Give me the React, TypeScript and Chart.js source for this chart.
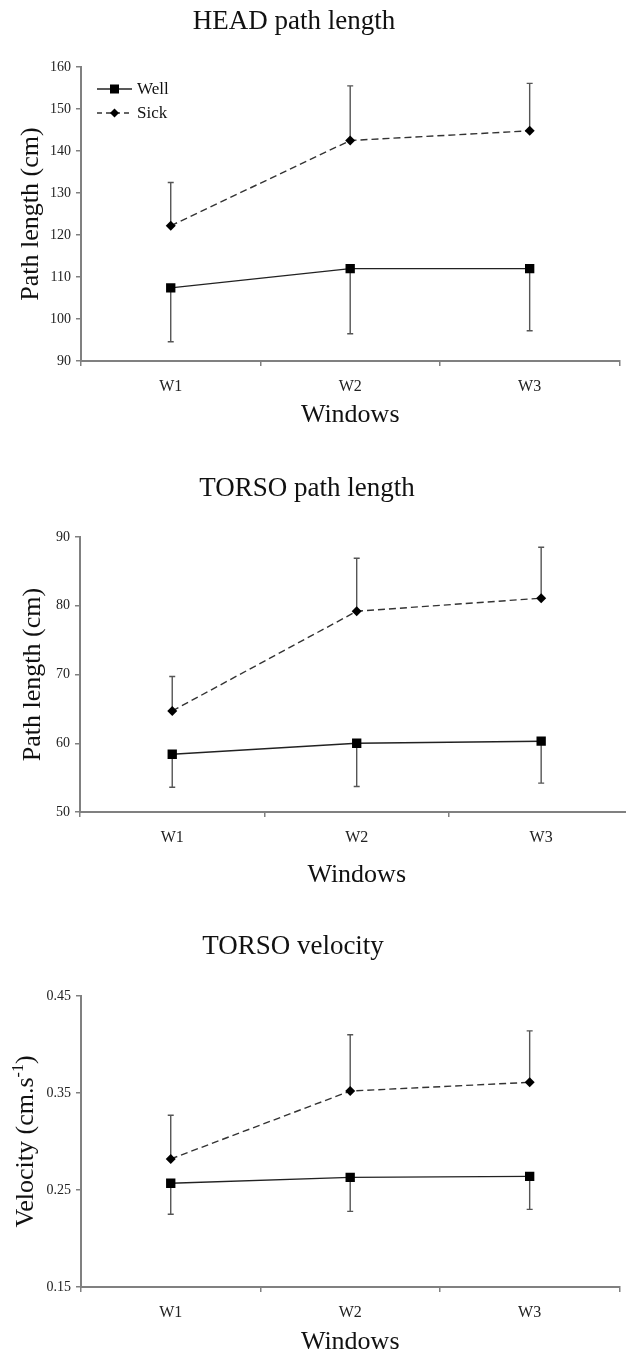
import React, { useEffect, useRef } from "react";
import { Chart, registerables } from "chart.js";

Chart.register(...registerables);

const SERIF = '"Liberation Serif", "Times New Roman", Times, serif';

// ---------- data ----------
const windows = ["W1", "W2", "W3"];
const seriesNames = ["Well", "Sick"];

const headWell = [107.4, 112.0, 112.0];
const headWellSd = [12.8, 15.5, 14.8];
const headSick = [122.2, 142.5, 144.8];
const headSickSd = [10.3, 13.0, 11.3];
const headTicks = [90, 100, 110, 120, 130, 140, 150, 160];

const torsoWell = [58.4, 60.0, 60.3];
const torsoWellSd = [4.8, 6.3, 6.1];
const torsoSick = [64.7, 79.2, 81.1];
const torsoSickSd = [5.0, 7.7, 7.4];
const torsoTicks = [50, 60, 70, 80, 90];

const velWell = [0.257, 0.263, 0.264];
const velWellSd = [0.032, 0.035, 0.034];
const velSick = [0.282, 0.352, 0.361];
const velSickSd = [0.045, 0.058, 0.053];
const velTicks = [0.15, 0.25, 0.35, 0.45];

type Part = { text: string; sup?: boolean };

interface Spec {
  top: number;
  width: number;
  height: number;
  plotLeft: number;
  plotTop: number;
  plotRight: number;
  plotBottom: number;
  title: string;
  titleX: number;
  titleY: number;
  xTitle: string;
  xTitleY: number;
  yTitle: Part[];
  yTitleX: number;
  well: number[];
  wellSd: number[];
  sick: number[];
  sickSd: number[];
  yTicks: number[];
  decimals: number;
  legend: boolean;
}

const specs: Spec[] = [
  {
    top: 0, width: 626, height: 440,
    plotLeft: 81, plotTop: 67, plotRight: 625, plotBottom: 361,
    title: "HEAD path length", titleX: 294, titleY: 22,
    xTitle: "Windows", xTitleY: 415,
    yTitle: [{ text: "Path length (cm)" }], yTitleX: 29,
    well: headWell, wellSd: headWellSd, sick: headSick, sickSd: headSickSd,
    yTicks: headTicks, decimals: 0, legend: true,
  },
  {
    top: 440, width: 640, height: 460,
    plotLeft: 80, plotTop: 97, plotRight: 638, plotBottom: 372,
    title: "TORSO path length", titleX: 307, titleY: 49,
    xTitle: "Windows", xTitleY: 435,
    yTitle: [{ text: "Path length (cm)" }], yTitleX: 31,
    well: torsoWell, wellSd: torsoWellSd, sick: torsoSick, sickSd: torsoSickSd,
    yTicks: torsoTicks, decimals: 0, legend: false,
  },
  {
    top: 900, width: 626, height: 457,
    plotLeft: 81, plotTop: 96, plotRight: 625, plotBottom: 387,
    title: "TORSO velocity", titleX: 293, titleY: 47,
    xTitle: "Windows", xTitleY: 442,
    yTitle: [{ text: "Velocity (cm.s" }, { text: "-1", sup: true }, { text: ")" }], yTitleX: 24,
    well: velWell, wellSd: velWellSd, sick: velSick, sickSd: velSickSd,
    yTicks: velTicks, decimals: 2, legend: false,
  },
];

// ---------- plugins ----------
const errorBarPlugin = {
  id: "errorBars",
  beforeDatasetsDraw(chart: any) {
    const ctx = chart.ctx;
    const ys = chart.scales.y;
    chart.data.datasets.forEach((ds: any, i: number) => {
      const meta = chart.getDatasetMeta(i);
      ds.data.forEach((v: number, j: number) => {
        const e = ds.errors[j];
        const x = meta.data[j].x;
        const y0 = ys.getPixelForValue(v);
        const y1 = ys.getPixelForValue(v + ds.errorDir * e);
        ctx.save();
        ctx.strokeStyle = "#555";
        ctx.lineWidth = 1.4;
        ctx.beginPath();
        ctx.moveTo(x, y0);
        ctx.lineTo(x, y1);
        ctx.moveTo(x - 3, y1);
        ctx.lineTo(x + 3, y1);
        ctx.stroke();
        ctx.restore();
      });
    });
  },
};

const textPlugin = {
  id: "texts",
  afterDraw(chart: any, _args: any, opts: any) {
    const ctx = chart.ctx;
    const area = chart.chartArea;
    ctx.save();
    ctx.fillStyle = "#111";
    ctx.textAlign = "center";
    ctx.textBaseline = "middle";
    // title
    ctx.font = `27px ${SERIF}`;
    ctx.fillText(opts.title, opts.titleX, opts.titleY);
    // x title
    ctx.font = `26px ${SERIF}`;
    ctx.fillText(opts.xTitle, (area.left + area.right) / 2, opts.xTitleY);
    // y title (rotated, with superscript support)
    const parts: Part[] = opts.yTitle;
    const mainFont = `26px ${SERIF}`;
    const supFont = `16px ${SERIF}`;
    let total = 0;
    const widths = parts.map((p) => {
      ctx.font = p.sup ? supFont : mainFont;
      const w = ctx.measureText(p.text).width;
      total += w;
      return w;
    });
    ctx.translate(opts.yTitleX, (area.top + area.bottom) / 2);
    ctx.rotate(-Math.PI / 2);
    ctx.textAlign = "left";
    ctx.textBaseline = "alphabetic";
    let cx = -total / 2;
    parts.forEach((p, k) => {
      ctx.font = p.sup ? supFont : mainFont;
      ctx.fillText(p.text, cx, p.sup ? 9 - 10 : 9);
      cx += widths[k];
    });
    ctx.restore();

    // legend
    if (opts.legend) {
      ctx.save();
      const lx = 97;
      const ly = 89;
      chart.data.datasets.forEach((ds: any, i: number) => {
        const y = ly + i * 24;
        ctx.strokeStyle = ds.borderColor;
        ctx.lineWidth = ds.borderWidth;
        ctx.setLineDash(ds.borderDash ? [5, 4] : []);
        ctx.beginPath();
        ctx.moveTo(lx, y);
        ctx.lineTo(lx + 35, y);
        ctx.stroke();
        ctx.setLineDash([]);
        ctx.fillStyle = "#000";
        const mx = lx + 17.5;
        if (ds.pointStyle === "rect") {
          ctx.fillRect(mx - 4.5, y - 4.5, 9, 9);
        } else {
          ctx.beginPath();
          ctx.moveTo(mx, y - 4.5);
          ctx.lineTo(mx + 4.5, y);
          ctx.lineTo(mx, y + 4.5);
          ctx.lineTo(mx - 4.5, y);
          ctx.closePath();
          ctx.fill();
        }
        ctx.fillStyle = "#111";
        ctx.font = `17px ${SERIF}`;
        ctx.textAlign = "left";
        ctx.textBaseline = "middle";
        ctx.fillText(ds.label, lx + 40, y + 1);
      });
      ctx.restore();
    }
  },
};

function Panel({ spec }: { spec: Spec }) {
  const ref = useRef<HTMLCanvasElement | null>(null);
  useEffect(() => {
    if (!ref.current) return;
    const s = spec;
    const axisColor = "#808080";
    const chart = new Chart(ref.current, {
      type: "line",
      data: {
        labels: windows,
        datasets: [
          {
            label: seriesNames[0],
            data: s.well,
            errors: s.wellSd,
            errorDir: -1,
            borderColor: "#222",
            borderWidth: 1.4,
            pointStyle: "rect",
            pointRadius: 6.6,
            pointBackgroundColor: "#000",
            pointBorderColor: "#000",
            pointBorderWidth: 0,
            tension: 0,
          } as any,
          {
            label: seriesNames[1],
            data: s.sick,
            errors: s.sickSd,
            errorDir: 1,
            borderColor: "#333",
            borderWidth: 1.4,
            borderDash: [7, 4],
            pointStyle: "rectRot",
            pointRadius: 5,
            pointBackgroundColor: "#000",
            pointBorderColor: "#000",
            pointBorderWidth: 0,
            tension: 0,
          } as any,
        ],
      },
      options: {
        responsive: false,
        animation: false,
        events: [],
        layout: {
          padding: { left: 0, top: s.plotTop, right: s.width - s.plotRight, bottom: 0 },
        },
        plugins: {
          legend: { display: false },
          title: { display: false },
          tooltip: { enabled: false },
          texts: {
            title: s.title,
            titleX: s.titleX,
            titleY: s.titleY,
            xTitle: s.xTitle,
            xTitleY: s.xTitleY,
            yTitle: s.yTitle,
            yTitleX: s.yTitleX,
            legend: s.legend,
          },
        } as any,
        scales: {
          x: {
            type: "category",
            offset: true,
            grid: {
              display: true,
              drawOnChartArea: false,
              drawTicks: true,
              tickLength: 5,
              offset: true,
              color: axisColor,
              lineWidth: 1.5,
            },
            border: { display: true, color: axisColor, width: 2 },
            ticks: {
              font: { family: SERIF, size: 16 },
              color: "#222",
              padding: 11,
              maxRotation: 0,
            },
            afterFit: (scale: any) => {
              scale.height = s.height - s.plotBottom;
            },
          },
          y: {
            type: "linear",
            min: s.yTicks[0],
            max: s.yTicks[s.yTicks.length - 1],
            afterBuildTicks: (scale: any) => {
              scale.ticks = s.yTicks.map((v) => ({ value: v }));
            },
            grid: {
              display: true,
              drawOnChartArea: false,
              drawTicks: true,
              tickLength: 5,
              color: axisColor,
              lineWidth: 1.5,
            },
            border: { display: true, color: axisColor, width: 2 },
            ticks: {
              font: { family: SERIF, size: 14 },
              color: "#222",
              padding: 5,
              callback: (v: any) => Number(v).toFixed(s.decimals),
            },
            afterFit: (scale: any) => {
              scale.width = s.plotLeft;
            },
          },
        },
      } as any,
      plugins: [errorBarPlugin, textPlugin] as any,
    });
    return () => chart.destroy();
  }, [spec]);
  return (
    <canvas
      ref={ref}
      width={spec.width}
      height={spec.height}
      style={{ position: "absolute", left: 0, top: spec.top, width: spec.width, height: spec.height, display: "block" }}
    />
  );
}

export default function App() {
  useEffect(() => {
    document.body.style.margin = "0";
    document.body.style.background = "#fff";
  }, []);
  return (
    <div style={{ position: "relative", width: 626, height: 1357, overflow: "hidden", background: "#fff" }}>
      {specs.map((s, i) => (
        <Panel key={i} spec={s} />
      ))}
    </div>
  );
}
